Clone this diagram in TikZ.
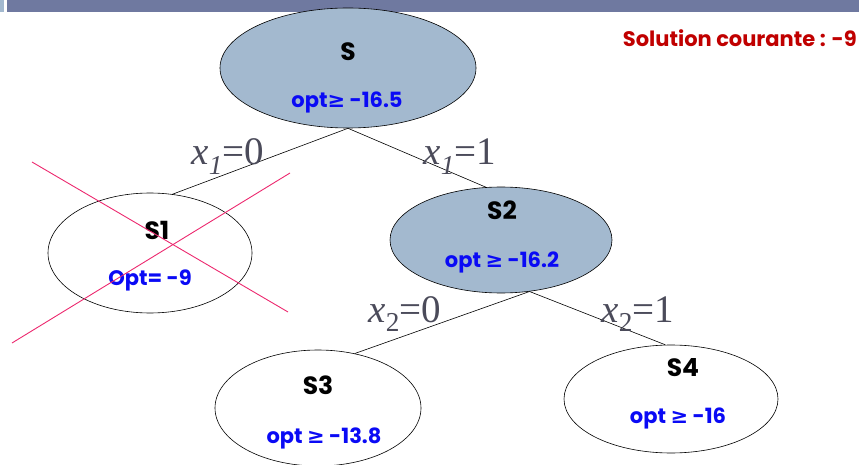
\documentclass[tikz,border=0pt]{standalone}
\usepackage{fontspec}
\newfontfamily\gothic{Poppins}
\newfontfamily\symfont{DejaVu Sans}
\newfontfamily\tms{Liberation Serif}
\usetikzlibrary{shapes.geometric,positioning,calc}

\definecolor{nodefill}{RGB}{163,185,207}
\definecolor{barblue}{RGB}{111,121,160}
\definecolor{optblue}{RGB}{10,10,245}
\definecolor{solred}{RGB}{192,0,0}
\definecolor{crosspink}{RGB}{236,40,110}
\definecolor{vargray}{RGB}{75,75,90}

% bold >= sign (Poppins may lack it)
\newcommand{\gsym}{{\symfont\bfseries ≥}}

\begin{document}
\begin{tikzpicture}[
  x=1pt, y=-1pt,
  state/.style={ellipse, draw=black, line width=0.6pt, inner sep=0pt},
  sname/.style={font=\gothic\bfseries\fontsize{25}{25}\selectfont, text=black},
  sopt/.style={font=\gothic\bfseries\fontsize{21}{21}\selectfont, text=optblue},
  branch/.style={draw=black, line width=0.6pt},
  varlab/.style={font=\tms\fontsize{39}{39}\selectfont, text=vargray, anchor=base},
]
\useasboundingbox (0,0) rectangle (859,465);

%% Title bar
\fill[barblue] (7,0) rectangle (859,12);
\fill[nodefill] (0,0) rectangle (4,12);

%% Tree nodes
\node[state, fill=nodefill, minimum width=256pt, minimum height=120pt] (S) at (348,68) {};
\node[state, minimum width=204pt, minimum height=120pt] (S1) at (150,253) {};
\node[state, fill=nodefill, minimum width=222pt, minimum height=106pt] (S2) at (501,240) {};
\node[state, minimum width=206pt, minimum height=116pt] (S3) at (318,408) {};
\node[state, minimum width=214pt, minimum height=108pt] (S4) at (671,399) {};

%% Node texts
\node[sname] (S-name) at (348,52) {S};
\node[sopt] (S-opt) at (347,102) {opt\gsym{} -16.5};
\node[sname] (S1-name) at (157,230) {S1};
\node[sopt] (S1-opt) at (150,280) {Opt= -9};
\node[sname] (S2-name) at (502,210) {S2};
\node[sopt] (S2-opt) at (502,262) {opt \gsym{} -16.2};
\node[sname] (S3-name) at (318,385) {S3};
\node[sopt] (S3-opt) at (324,438) {opt \gsym{} -13.8};
\node[sname] (S4-name) at (683,368) {S4};
\node[sopt] (S4-opt) at (678,418) {opt \gsym{} -16};

%% Branches
\draw[branch] (S.south) -- (S1.69);
\draw[branch] (S.south) -- (S2.106);
\draw[branch] (S2.-61) -- (S3.56);
\draw[branch] (S2.-61) -- (S4.96);

%% Branch labels
\node[varlab] (b10) at (228,165) {\textit{x}\textsubscript{\textit{1}}=0};
\node[varlab] (b11) at (460,165) {\textit{x}\textsubscript{\textit{1}}=1};
\node[varlab] (b20) at (405,322) {\textit{x}\textsubscript{2}=0};
\node[varlab] (b21) at (638,322) {\textit{x}\textsubscript{2}=1};

%% Pruned node cross
\coordinate (cr1a) at (32,162);
\coordinate (cr1b) at (288,312);
\coordinate (cr2a) at (12,343);
\coordinate (cr2b) at (290,173);
\draw[crosspink, line width=0.9pt] (cr1a) -- (cr1b);
\draw[crosspink, line width=0.9pt] (cr2a) -- (cr2b);

%% Current solution
\node[font=\gothic\bfseries\fontsize{21}{21}\selectfont, text=solred, anchor=east, inner sep=0pt]
  (sol) at (857,38) {Solution courante : -9};

\end{tikzpicture}
\end{document}
